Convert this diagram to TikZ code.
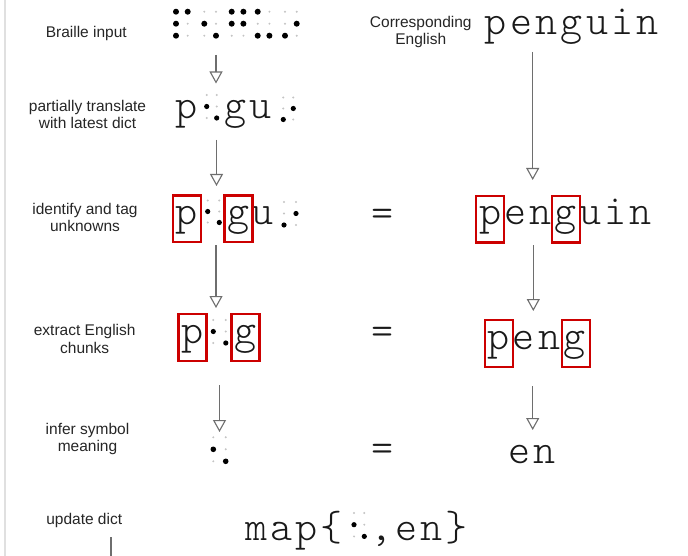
\documentclass[tikz,border=0pt]{standalone}
\usepackage{fontspec}
\setmainfont{Liberation Sans}
\newfontfamily\monof{lmmonolt10-regular.otf}
\usetikzlibrary{arrows.meta}
\definecolor{arrowgray}{HTML}{6E6E6E}
\definecolor{boxred}{HTML}{CC0000}
\definecolor{faintdot}{HTML}{C4C4C4}
\definecolor{edgegray}{HTML}{E0E0E0}
\newcommand{\bigmono}{\monof\fontsize{42}{45}\selectfont}
% #1 x, #2 y of dot 1, #3 horizontal spacing, #4 vertical spacing, #5 radius, #6 six 0/1 values (dots 1..6)
\newcommand{\brcell}[6]{%
  \foreach \v [count=\i] in {#6} {%
    \pgfmathsetmacro\cx{#1+(\i>3)*#3}%
    \pgfmathsetmacro\cy{#2+mod(\i-1,3)*#4}%
    \ifnum\v=1 \fill[black] (\cx,\cy) circle[radius=#5pt];%
    \else \fill[faintdot] (\cx,\cy) circle[radius=1.1pt];\fi
  }}
% #1 name prefix, #2 centre x of first letter, #3 baseline y, #4 letter pitch, #5 letters
\newcommand{\mword}[5]{%
  \foreach \c [count=\k] in {#5} {%
    \node[letter] (#1\k) at ({#2+(\k-1)*#4},#3) {\c};
  }}
\begin{document}
\begin{tikzpicture}[x=1pt,y=-1pt,
  lbl/.style={font=\fontsize{15.5}{17}\selectfont, inner sep=0, anchor=base, text=black!85},
  letter/.style={font=\bigmono, inner sep=0, anchor=base, text=black!90},
  redbox/.style={draw=boxred, line width=2.4pt, minimum width=28pt, minimum height=46.5pt, inner sep=0, anchor=north},
  flow/.style={draw=arrowgray, line width=1.1pt, -{Triangle[open, width=13pt, length=12pt, fill=white]}}]
\useasboundingbox (0,0) rectangle (688,556);
\fill[white] (0,0) rectangle (688,556);

% left edge line
\coordinate (edgetop) at (5,0);
\coordinate (edgebot) at (5,556);
\draw[edgegray, line width=1.5pt] (edgetop) -- (edgebot);

% step labels
\node[lbl] (l1) at (86.3,37.3) {Braille input};
\node[lbl] (l2a) at (87.5,111.7) {partially translate};
\node[lbl] (l2b) at (87.5,128.3) {with latest dict};
\node[lbl] (l3a) at (85,214.3) {identify and tag};
\node[lbl] (l3b) at (85,231.7) {unknowns};
\node[lbl] (l4a) at (84.7,335) {extract English};
\node[lbl] (l4b) at (84.7,353.3) {chunks};
\node[lbl] (l5a) at (87.5,434) {infer symbol};
\node[lbl] (l5b) at (87.5,451.7) {meaning};
\node[lbl] (l6) at (84.2,524.3) {update dict};
\node[lbl] (r0a) at (420.8,27.3) {Corresponding};
\node[lbl] (r0b) at (420.8,45) {English};

% braille input
\brcell{176}{11.7}{11.7}{12}{3}{1,1,1,1,0,0}
\brcell{204.3}{11.7}{11.7}{12}{3}{0,1,0,0,0,1}
\brcell{231.7}{11.7}{11.7}{12}{3}{1,1,0,1,1,0}
\brcell{257.7}{11.7}{11.7}{12}{3}{1,0,1,0,0,1}
\brcell{285}{11.7}{11.7}{12}{3}{0,0,1,0,1,0}

% row 2: partial translation
\node[letter] (m2p) at (186.5,119) {p};
\brcell{206.7}{95}{10}{11.5}{2.6}{0,1,0,0,0,1}
\node[letter] (m2g) at (236,119) {g};
\node[letter] (m2u) at (260.5,119) {u};
\brcell{283.3}{97.5}{10}{11}{2.6}{0,0,1,0,1,0}

% row 3: tagged unknowns
\node[letter] (m3p) at (187,224.5) {p};
\brcell{207.7}{200.5}{11.6}{11}{2.6}{0,1,0,0,0,1}
\node[letter] (m3g) at (239,224.5) {g};
\node[letter] (m3u) at (262.5,224.5) {u};
\brcell{284}{202}{12}{11.5}{2.6}{0,0,1,0,1,0}
\node[redbox] (m3pb) at (187,194.5) {};
\node[redbox] (m3gb) at (238.5,194.5) {};

% row 4: chunks
\node[letter] (m4p) at (192.5,343) {p};
\brcell{213.3}{320}{12.5}{11.5}{2.6}{0,1,0,0,0,1}
\node[letter] (m4g) at (245.5,343) {g};
\node[redbox] (m4pb) at (192.5,313) {};
\node[redbox] (m4gb) at (245.5,313) {};

% row 5: inferred symbol
\brcell{213.3}{437.3}{12.4}{12}{2.8}{0,1,0,0,0,1}

% right column
\mword{ra}{496}{35}{25.3}{p,e,n,g,u,i,n}
\mword{rc}{490.5}{225}{25}{p,e,n,g,u,i,n}
\node[redbox] (r3pb) at (490,195) {};
\node[redbox] (r3gb) at (566,195) {};
\mword{rd}{498.5}{349}{25.5}{p,e,n,g}
\node[redbox] (r4pb) at (499,319) {};
\node[redbox] (r4gb) at (576,319) {};
\mword{re}{519.5}{463}{25.5}{e,n}

% equals signs
\node[letter] (eq3) at (383,226) {=};
\node[letter] (eq4) at (383,344) {=};
\node[letter] (eq5) at (383,461.5) {=};

% update dict
\mword{mpa}{256.5}{540}{25}{m,a,p,\{}
\brcell{354}{513}{10.3}{11.7}{2.6}{0,1,0,0,0,1}
\mword{mpb}{381.5}{540}{25}{{,},e,n,\}}

% arrows
\coordinate (a1s) at (216,55);    \coordinate (a1e) at (216,83.5);
\coordinate (a2s) at (216.5,140); \coordinate (a2e) at (216.5,186);
\coordinate (a3s) at (216,245);   \coordinate (a3e) at (216,308);
\coordinate (a4s) at (219.5,385); \coordinate (a4e) at (219.5,432);
\coordinate (b1s) at (532.7,52);  \coordinate (b1e) at (532.7,180);
\coordinate (b2s) at (533.3,245); \coordinate (b2e) at (533.3,311);
\coordinate (b3s) at (532.7,386); \coordinate (b3e) at (532.7,430);
\draw[flow] (a1s) -- (a1e);
\draw[flow] (a2s) -- (a2e);
\draw[flow] (a3s) -- (a3e);
\draw[flow] (a4s) -- (a4e);
\draw[flow] (b1s) -- (b1e);
\draw[flow] (b2s) -- (b2e);
\draw[flow] (b3s) -- (b3e);
\coordinate (stubs) at (111,537);
\coordinate (stube) at (111,556);
\draw[arrowgray, line width=1.1pt] (stubs) -- (stube);
\end{tikzpicture}
\end{document}
